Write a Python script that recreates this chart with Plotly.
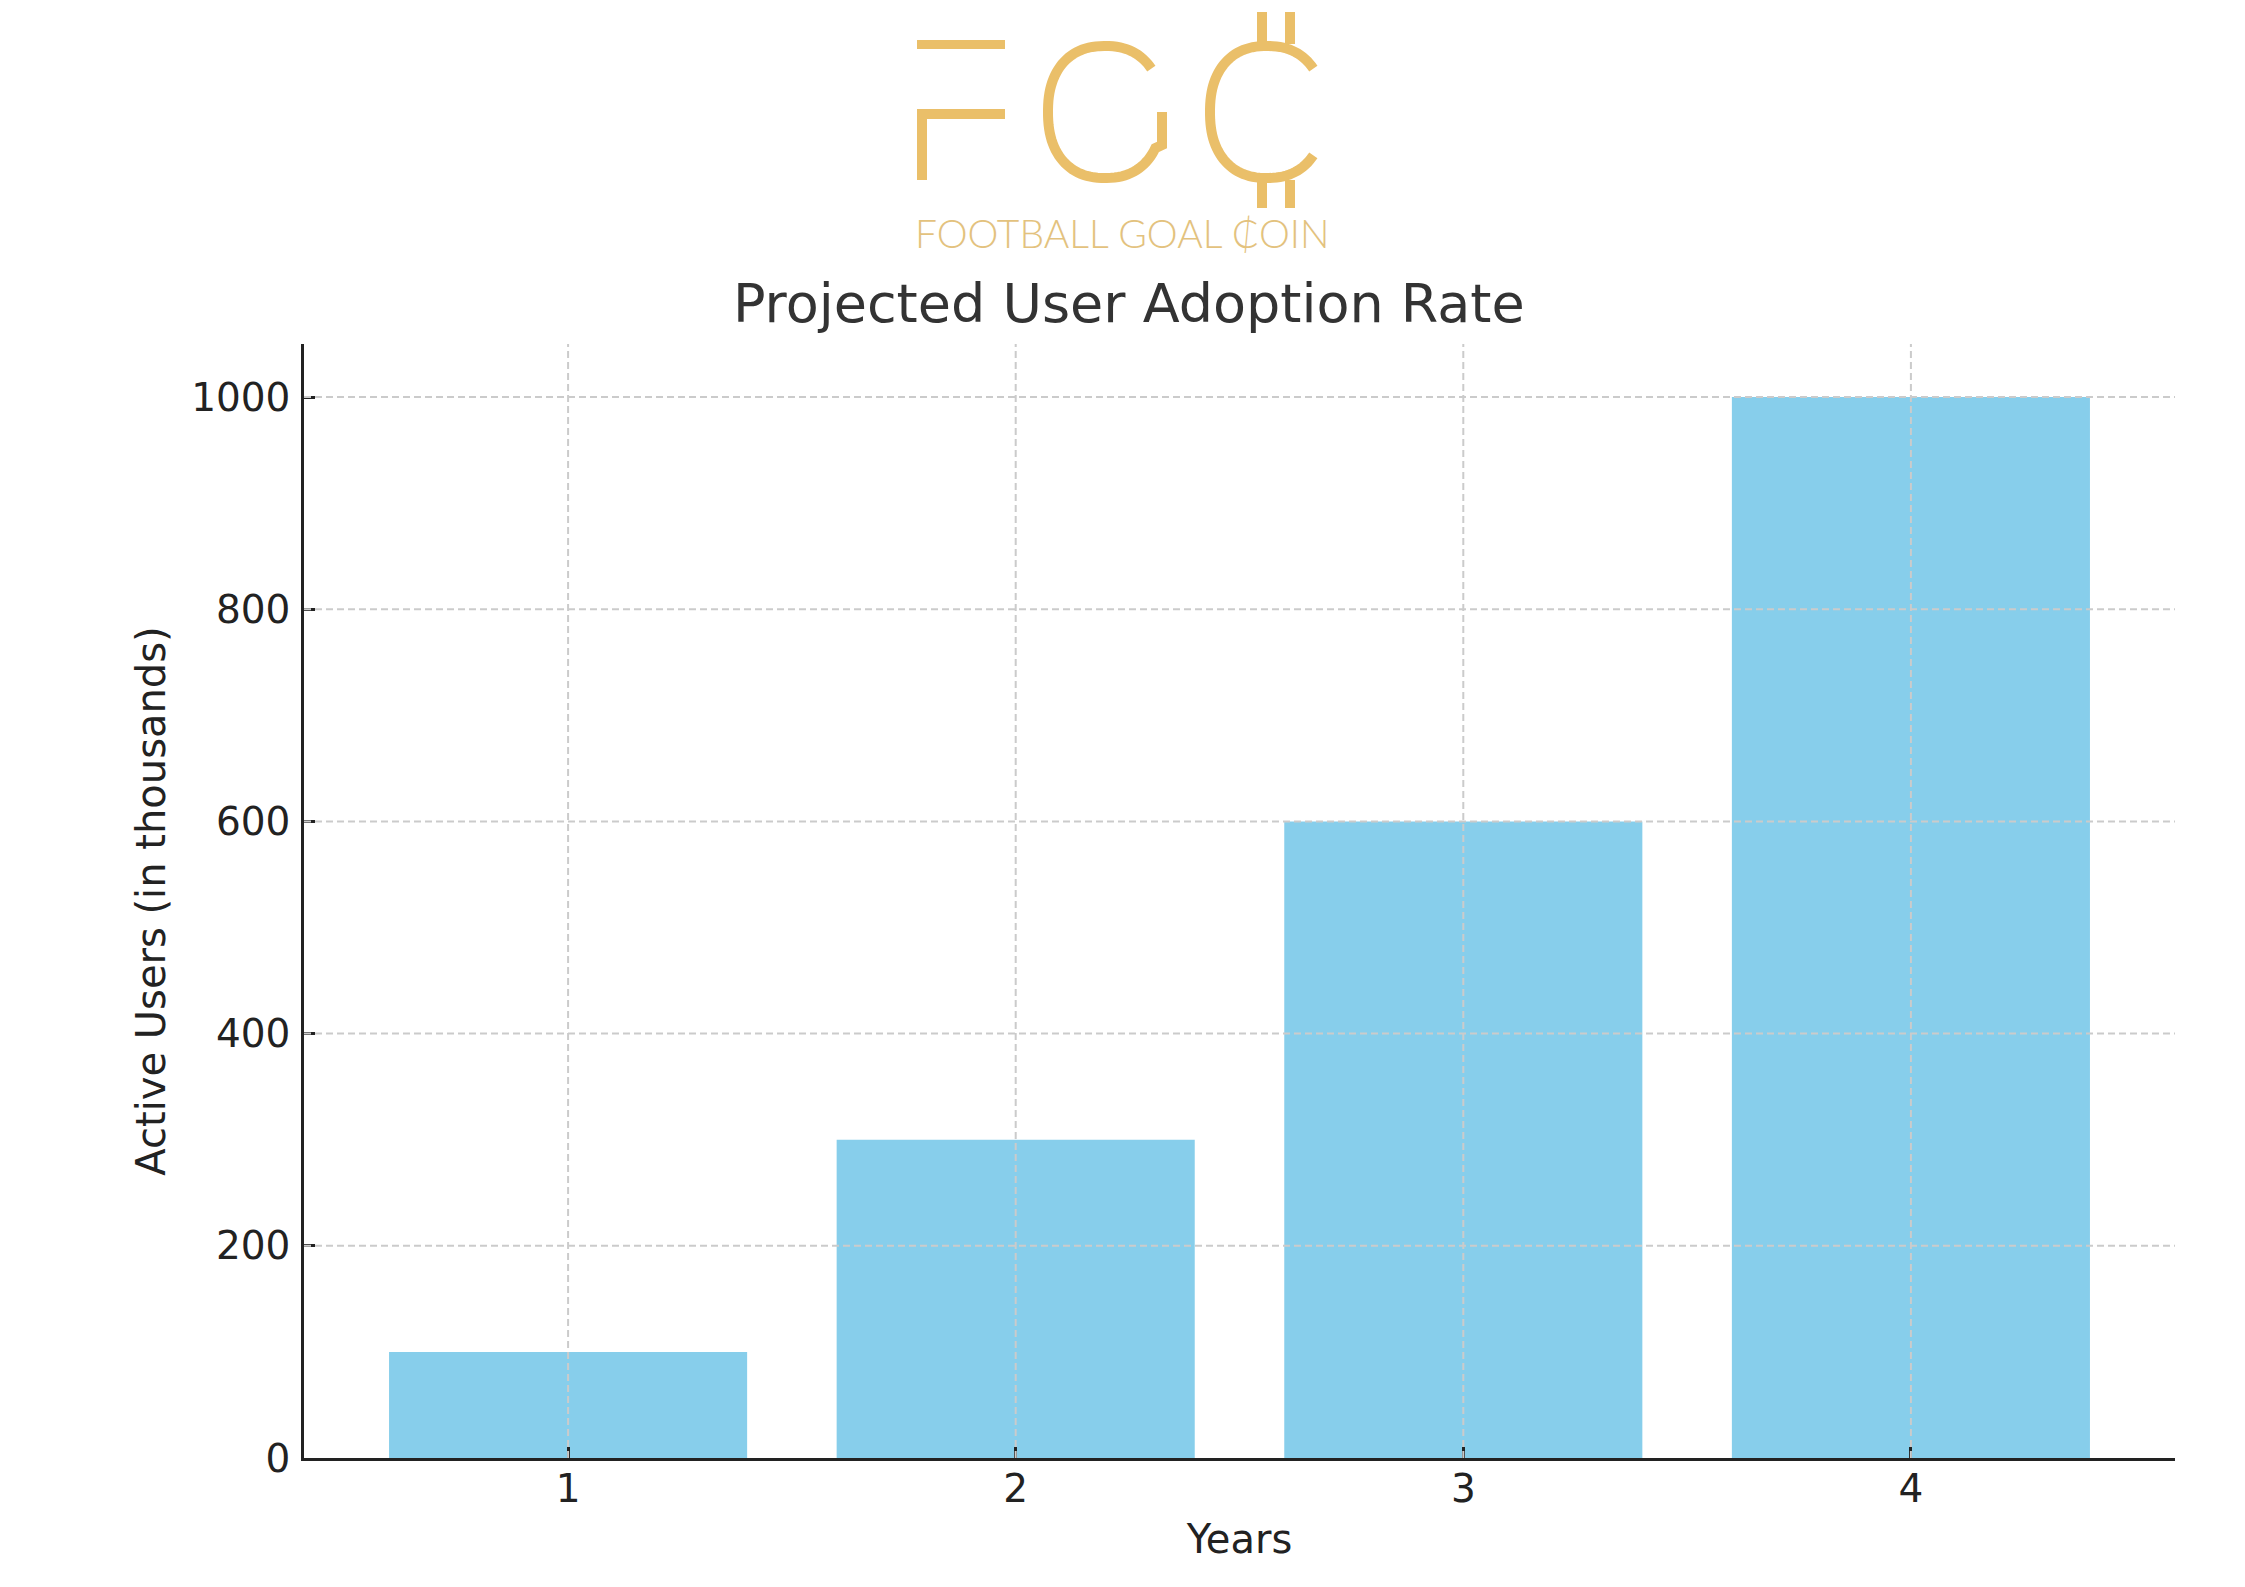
import numpy as np
import plotly.graph_objects as go

# ---- data ----
years = [1, 2, 3, 4]
active_users = [100, 300, 600, 1000]
x_ticks = [1, 2, 3, 4]
y_ticks = [0, 200, 400, 600, 800, 1000]

title_text = "Projected User Adoption Rate"
x_label = "Years"
y_label = "Active Users (in thousands)"
logo_sub = "FOOTBALL GOAL \u20B5OIN"

W, H = 2245, 1587
OFF = 8  # page body margin
L, R, T, B = 304 - OFF, 2175 - OFF, 344 - OFF, 1458 - OFF

def px(x):
    return (x - OFF - L) / (R - L)

def py(y):
    return (B - (y - OFF)) / (B - T)

GOLD = "#EABF69"
GRID = "#cbcbcb"
AX = "#222222"

fig = go.Figure()
fig.add_trace(go.Bar(x=years, y=active_users, width=0.8,
                     marker=dict(color="#87CEEB", line=dict(width=0)),
                     hoverinfo="x+y"))

shapes = []
# grid lines above bars (matplotlib style), at tick positions
for t in x_ticks:
    shapes.append(dict(type="line", xref="x", yref="paper", x0=t, x1=t, y0=0, y1=1,
                       layer="above", line=dict(color=GRID, width=2, dash="7px,4px")))
for t in y_ticks[1:]:
    shapes.append(dict(type="line", xref="paper", yref="y", x0=0, x1=1, y0=t, y1=t,
                       layer="above", line=dict(color=GRID, width=2, dash="7px,4px")))

# ---- logo (decoration) ----
def rect(x0, y0, x1, y1):
    return dict(type="rect", xref="paper", yref="paper", x0=px(x0), x1=px(x1),
                y0=py(y1), y1=py(y0), fillcolor=GOLD, line=dict(width=0), layer="above")

# F
shapes.append(rect(917, 40, 1005, 49))
shapes.append(rect(917, 109, 1005, 119))
shapes.append(rect(917, 109, 927, 180))

def arc_path(cx, cy, rx, ry, a0, a1, post=None, n=90, e=2.3):
    ang = np.radians(np.linspace(a0, a1, n))
    c, s = np.cos(ang), np.sin(ang)
    xs = cx + rx * np.sign(c) * np.abs(c) ** (2 / e)
    ys = cy - ry * np.sign(s) * np.abs(s) ** (2 / e)
    pts = list(zip(xs, ys))
    if post:
        pts = pts + post
    d = "M " + " L ".join(f"{px(x):.5f},{py(y):.5f}" for x, y in pts)
    return dict(type="path", xref="paper", yref="paper", path=d,
                line=dict(color=GOLD, width=10), layer="above")

# G
shapes.append(arc_path(1105, 112, 57, 66, 38, 330, post=[(1162, 145), (1162, 112)]))
# cedi C
shapes.append(arc_path(1267, 112, 57, 66, 38, 322))
shapes.append(rect(1257, 12, 1267, 44))
shapes.append(rect(1285, 12, 1295, 44))
shapes.append(rect(1257, 180, 1267, 208))
shapes.append(rect(1285, 180, 1295, 208))

annotations = [
    dict(text=logo_sub, xref="paper", yref="paper", x=px(1122), y=py(233),
         xanchor="center", yanchor="middle", showarrow=False,
         font=dict(family="Lato", size=39, color="#E3C27E", weight=300)),
    dict(text=title_text, xref="paper", yref="paper", x=px(1129), y=py(303),
         xanchor="center", yanchor="middle", showarrow=False,
         font=dict(family="DejaVu Sans", size=54, color="#333333")),
]

fig.update_layout(
    width=W, height=H,
    margin=dict(l=L, r=W - R, t=T, b=H - B, pad=0),
    paper_bgcolor="white", plot_bgcolor="white",
    showlegend=False,
    font=dict(family="DejaVu Sans", size=39, color=AX),
    shapes=shapes,
    annotations=annotations,
    xaxis=dict(range=[0.41, 4.59], tickvals=x_ticks, ticktext=[str(v) for v in x_ticks],
               showgrid=False, zeroline=False, showline=True, linecolor=AX, linewidth=2.5,
               ticks="inside", ticklen=11, tickwidth=2.5, tickcolor=AX,
               tickfont=dict(size=39, color=AX), ticklabelstandoff=-6,
               title=dict(text=x_label, font=dict(size=40, color=AX), standoff=16)),
    yaxis=dict(range=[0, 1050], tickvals=y_ticks, ticktext=[str(v) for v in y_ticks],
               showgrid=False, zeroline=False, showline=True, linecolor=AX, linewidth=2.5,
               ticks="inside", ticklen=11, tickwidth=2.5, tickcolor=AX,
               tickfont=dict(size=39, color=AX), ticklabelstandoff=3,
               title=dict(text=y_label, font=dict(size=40, color=AX), standoff=14)),
)

fig.write_html("out.html")
